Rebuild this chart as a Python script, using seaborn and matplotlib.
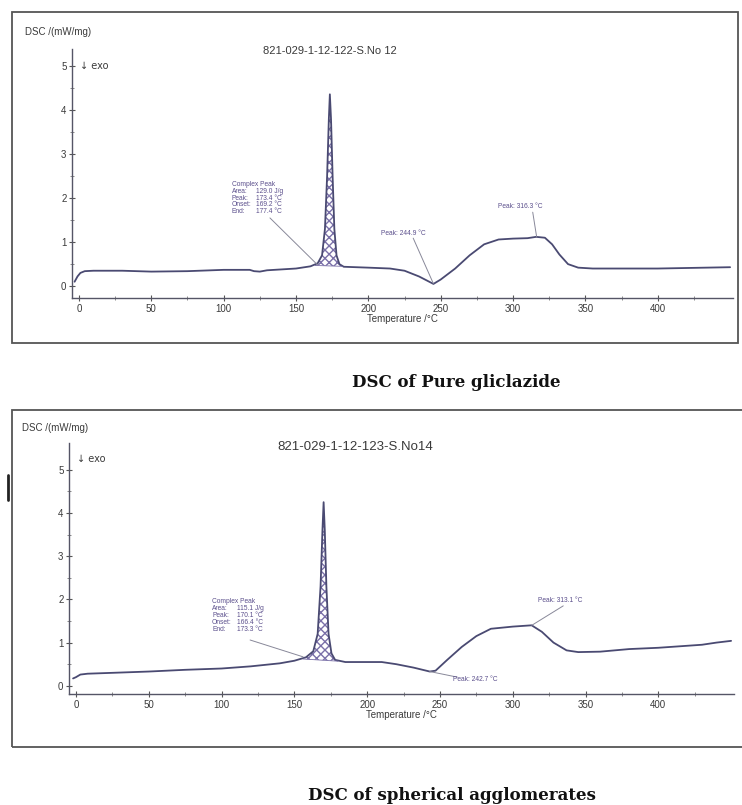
import numpy as np
import pandas as pd
import matplotlib
matplotlib.use("Agg")
import matplotlib.pyplot as plt
from matplotlib.patches import Rectangle
from matplotlib.lines import Line2D
import seaborn as sns

# ---------------- data ----------------
temp_pure = [-3, -1, 1, 4, 10, 30, 50, 75, 100, 118, 121, 125, 130, 150, 160, 165, 168,
             170, 171.5, 172.7, 173.4, 174.2, 175.3, 176.5, 178, 180, 183, 200, 215, 225,
             235, 245, 250, 260, 270, 280, 290, 300, 310, 316, 322, 327, 332, 338, 345,
             355, 400, 450]
dsc_pure = [0.10, 0.22, 0.30, 0.34, 0.35, 0.35, 0.33, 0.34, 0.37, 0.37, 0.34, 0.33, 0.36,
            0.40, 0.45, 0.52, 0.70, 1.30, 2.50, 3.80, 4.36, 3.80, 2.50, 1.30, 0.70, 0.50,
            0.44, 0.42, 0.40, 0.35, 0.22, 0.05, 0.15, 0.40, 0.70, 0.95, 1.06, 1.08, 1.09,
            1.12, 1.10, 0.95, 0.72, 0.50, 0.42, 0.40, 0.40, 0.43]

temp_agg = [-2, 0, 3, 8, 25, 50, 75, 100, 120, 140, 150, 158, 163, 166, 168, 169.3, 170.1,
            170.9, 172, 173.5, 175.5, 178, 185, 200, 210, 220, 232, 243, 247, 255, 265, 275,
            285, 300, 313, 320, 328, 337, 345, 360, 380, 400, 430, 440, 450]
dsc_agg = [0.17, 0.20, 0.26, 0.28, 0.30, 0.33, 0.37, 0.40, 0.45, 0.52, 0.58, 0.66, 0.80,
           1.20, 2.30, 3.60, 4.25, 3.60, 2.30, 1.20, 0.75, 0.60, 0.55, 0.55, 0.55, 0.50,
           0.42, 0.33, 0.35, 0.60, 0.90, 1.15, 1.32, 1.37, 1.40, 1.25, 1.00, 0.82, 0.78,
           0.79, 0.85, 0.88, 0.95, 1.00, 1.04]

x_ticks = [0, 50, 100, 150, 200, 250, 300, 350, 400]
y_ticks = [0, 1, 2, 3, 4, 5]

titles = ["821-029-1-12-122-S.No 12", "821-029-1-12-123-S.No14"]
captions = ["DSC of Pure gliclazide", "DSC of spherical agglomerates"]
peak_info = [["Complex Peak", "Area:", "129.0 J/g", "Peak:", "173.4 °C",
              "Onset:", "169.2 °C", "End:", "177.4 °C"],
             ["Complex Peak", "Area:", "115.1 J/g", "Peak:", "170.1 °C",
              "Onset:", "166.4 °C", "End:", "173.3 °C"]]
peak_labels = [["Peak: 244.9 °C", "Peak: 316.3 °C"], ["Peak: 242.7 °C", "Peak: 313.1 °C"]]
# melting peak integration limits (start T, end T) and their baseline values
integ = [(163, 182, 0.47, 0.45), (156, 180, 0.62, 0.57)]

# ---------------- figure ----------------
sns.set_theme(style="white")
plt.rcParams['font.family'] = ['Liberation Sans', 'DejaVu Sans']

W, H = 742, 805
fig = plt.figure(figsize=(W / 100, H / 100), dpi=100)
fig.patch.set_facecolor("white")

def fx(px):
    return px / W

def fy(py):
    return 1 - py / H

line_col = "#4a4a72"
txt_col = "#3a3a3a"
ann_col = "#5b4f8c"

# panel border rectangles
fig.patches.append(Rectangle((fx(12), fy(343)), fx(738) - fx(12), fy(12) - fy(343),
                             transform=fig.transFigure, fill=False, ec="#555555", lw=1.3))
fig.patches.append(Rectangle((fx(12), fy(747)), fx(745) - fx(12), fy(410) - fy(747),
                             transform=fig.transFigure, fill=False, ec="#555555", lw=1.3))
# small black mark on the left edge
fig.lines.append(Line2D([fx(8), fx(8)], [fy(475), fy(500)], transform=fig.transFigure,
                        color="#222222", lw=2))

specs = [
    dict(box=(72, 298, 733, 49), xlim=(-4.8, 452), ylim=(-0.27, 5.39),
         temp=temp_pure, dsc=dsc_pure, title_xy=(330, 51), title_fs=8.0,
         ylab_xy=(25, 32), exo_xy=(80, 66), cap_xy=(456, 382),
         block=(105.7, 2.39), block_leader=((132, 1.55), (165, 0.48)),
         peaks=[((208.6, 1.20), (231, 1.09), (244.9, 0.06)),
                ((289.5, 1.80), (313.6, 1.68), (316.3, 1.12))]),
    dict(box=(69, 694, 734, 443), xlim=(-4.8, 452), ylim=(-0.19, 5.62),
         temp=temp_agg, dsc=dsc_agg, title_xy=(355, 447), title_fs=9.5,
         ylab_xy=(22, 428), exo_xy=(77, 459), cap_xy=(452, 795),
         block=(93.5, 2.04), block_leader=((119.6, 1.06), (156, 0.67)),
         peaks=[((259, 0.14), (262, 0.20), (243, 0.33)),
                ((317.5, 1.97), (334.7, 1.85), (313.1, 1.40))]),
]

for i, s in enumerate(specs):
    l, b, r, t = s["box"]
    ax = fig.add_axes([fx(l), fy(b), fx(r) - fx(l), fy(t) - fy(b)])
    ax.set_facecolor("none")
    df = pd.DataFrame({"Temperature": s["temp"], "DSC": s["dsc"]})
    sns.lineplot(data=df, x="Temperature", y="DSC", ax=ax, color=line_col, lw=1.3,
                 estimator=None, sort=False)
    # hatched integrated melting peak
    t0, t1, b0, b1 = integ[i]
    tt = np.array(s["temp"])
    dd = np.array(s["dsc"])
    m = (tt >= t0) & (tt <= t1)
    tsel = np.concatenate([[t0], tt[m], [t1]])
    dsel = np.concatenate([[np.interp(t0, tt, dd)], dd[m], [np.interp(t1, tt, dd)]])
    base = np.interp(tsel, [t0, t1], [b0, b1])
    ax.fill_between(tsel, base, dsel, facecolor="none", edgecolor="#7a70a8",
                    hatch="xxxx", lw=0)
    ax.plot([t0, t1], [b0, b1], color="#7a70a8", lw=0.6)

    ax.set_xlim(*s["xlim"])
    ax.set_ylim(*s["ylim"])
    ax.set_xticks(x_ticks)
    ax.set_yticks(y_ticks)
    ax.set_xticks(np.arange(25, 450, 50), minor=True)
    ax.set_yticks(np.arange(0.5, 5.5, 1.0), minor=True)
    ax.tick_params(axis="both", which="major", direction="inout", length=4, width=0.8,
                   colors="#555555", labelcolor=txt_col, labelsize=7, pad=2)
    ax.tick_params(axis="both", which="minor", direction="inout", length=2.5, width=0.6,
                   colors="#777777")
    ax.tick_params(axis="x", which="both", bottom=True)
    ax.tick_params(axis="y", which="both", left=True)
    for sp in ["top", "right"]:
        ax.spines[sp].set_visible(False)
    for sp in ["left", "bottom"]:
        ax.spines[sp].set_color("#555566")
        ax.spines[sp].set_linewidth(1.0)
    ax.set_xlabel("Temperature /°C", fontsize=7, color=txt_col, labelpad=0.5)
    ax.set_ylabel("")
    ax.grid(False)

    bx, by = s["block"]
    info = peak_info[i]
    ax.text(bx, by, info[0], fontsize=4.8, color=ann_col, va="top", ha="left")
    step = 0.155 if i == 0 else 0.165
    for k in range(4):
        yy = by - step * (k + 1)
        ax.text(bx, yy, info[1 + 2 * k], fontsize=4.8, color=ann_col, va="top", ha="left")
        ax.text(bx + 17, yy, info[2 + 2 * k], fontsize=4.8, color=ann_col, va="top", ha="left")
    (lx0, ly0), (lx1, ly1) = s["block_leader"]
    ax.plot([lx0, lx1], [ly0, ly1], color="#888899", lw=0.7)

    for lab, (tpos, lstart, lend) in zip(peak_labels[i], s["peaks"]):
        ax.text(tpos[0], tpos[1], lab, fontsize=4.8, color=ann_col, va="center", ha="left")
        ax.plot([lstart[0], lend[0]], [lstart[1], lend[1]], color="#888899", lw=0.7)

    fig.text(fx(s["ylab_xy"][0]), fy(s["ylab_xy"][1]), "DSC /(mW/mg)", fontsize=7,
             color=txt_col, ha="left", va="center")
    fig.text(fx(s["title_xy"][0]), fy(s["title_xy"][1]), titles[i], fontsize=s["title_fs"],
             color=txt_col, ha="center", va="center")
    fig.text(fx(s["exo_xy"][0]), fy(s["exo_xy"][1]), "↓ exo", fontsize=7,
             color=txt_col, ha="left", va="center", family=['DejaVu Sans'])
    fig.text(fx(s["cap_xy"][0]), fy(s["cap_xy"][1]), captions[i], fontsize=12,
             color="#111111", ha="center", va="center", family=['DejaVu Serif'],
             fontweight="bold")

fig.savefig("out.png", dpi=100, facecolor="white")
